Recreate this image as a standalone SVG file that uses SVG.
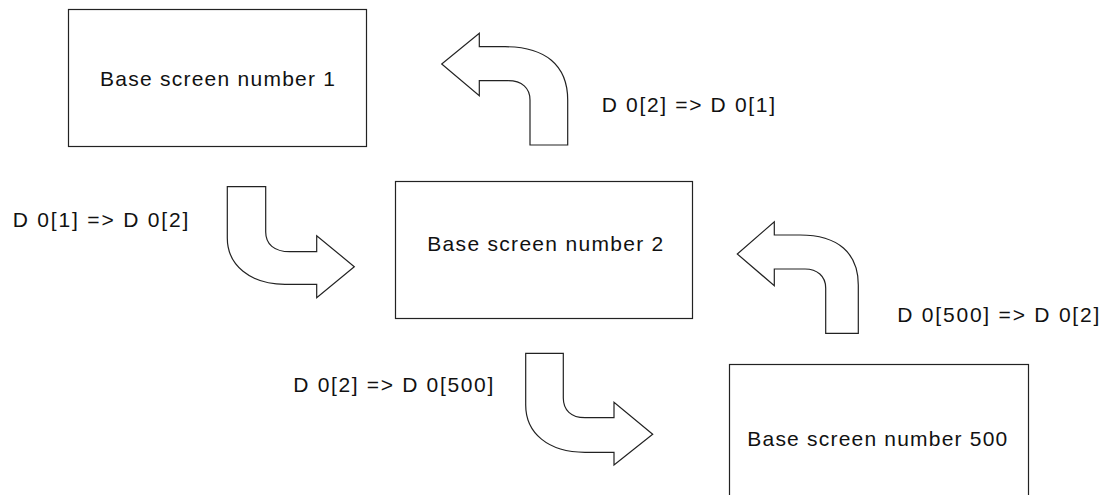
<svg xmlns="http://www.w3.org/2000/svg" width="1113" height="495" viewBox="0 0 1113 495">
<style>
.box{fill:#fff;stroke:#222;stroke-width:1.2}
.arr{fill:#fff;stroke:#222;stroke-width:1.2;stroke-linejoin:miter}
text{font-family:"Liberation Sans",Arial,sans-serif;font-size:21px;fill:#111}
</style>
<rect width="1113" height="495" fill="#fff"/>
<g id="node-screen1">
<rect class="box" x="68.5" y="9.5" width="298" height="137"/>
<text x="100" y="86" textLength="235" lengthAdjust="spacing">Base screen number 1</text>
</g>
<g id="node-screen2">
<rect class="box" x="395.5" y="181.5" width="297" height="137"/>
<text x="427.3" y="250.7" textLength="236" lengthAdjust="spacing">Base screen number 2</text>
</g>
<g id="node-screen500">
<rect class="box" x="729.5" y="364.5" width="299" height="140"/>
<text x="747.3" y="445.7" textLength="260" lengthAdjust="spacing">Base screen number 500</text>
</g>
<g id="connectors">
<path class="arr" d="M 530 145 L 530 100 C 530 88 522 80.7 508 80.7 L 479.3 80.7 L 479.3 95.7 L 441.7 64 L 479.3 33.3 L 479.3 46.7 L 505 46.7 C 545 46.7 567.7 65 567.7 100 L 567.7 145 Z"/>
<path class="arr" d="M 227.3 186.7 L 265.7 186.7 L 265.7 232 C 265.7 244 274 251.7 290 251.7 L 316.7 251.7 L 316.7 235.7 L 354.3 266.7 L 316.7 297.7 L 316.7 284.3 L 285 284.3 C 250 284.3 227.3 265 227.3 238 Z"/>
<path class="arr" d="M 825.7 333.3 L 825.7 288 C 825.7 276 817 269 805 269 L 774.3 269 L 774.3 285.7 L 737.3 254 L 774.3 221.7 L 774.3 235 L 800 235 C 838 235 858.3 253 858.3 285 L 858.3 333.3 Z"/>
<path class="arr" d="M 525.7 353.3 L 563.3 353.3 L 563.3 398 C 563.3 410 571 417.7 585 417.7 L 614 417.7 L 614 402.3 L 652.7 434.3 L 614 465 L 614 452.3 L 585 452.3 C 548 452.3 525.7 433 525.7 405 Z"/>
<text x="12.7" y="226.7" textLength="175.6" lengthAdjust="spacing">D 0[1] =&gt; D 0[2]</text>
<text x="601.7" y="111.7" textLength="173.3" lengthAdjust="spacing">D 0[2] =&gt; D 0[1]</text>
<text x="897.3" y="321.7" textLength="202" lengthAdjust="spacing">D 0[500] =&gt; D 0[2]</text>
<text x="293.3" y="391.7" textLength="200" lengthAdjust="spacing">D 0[2] =&gt; D 0[500]</text>
</g>
</svg>
